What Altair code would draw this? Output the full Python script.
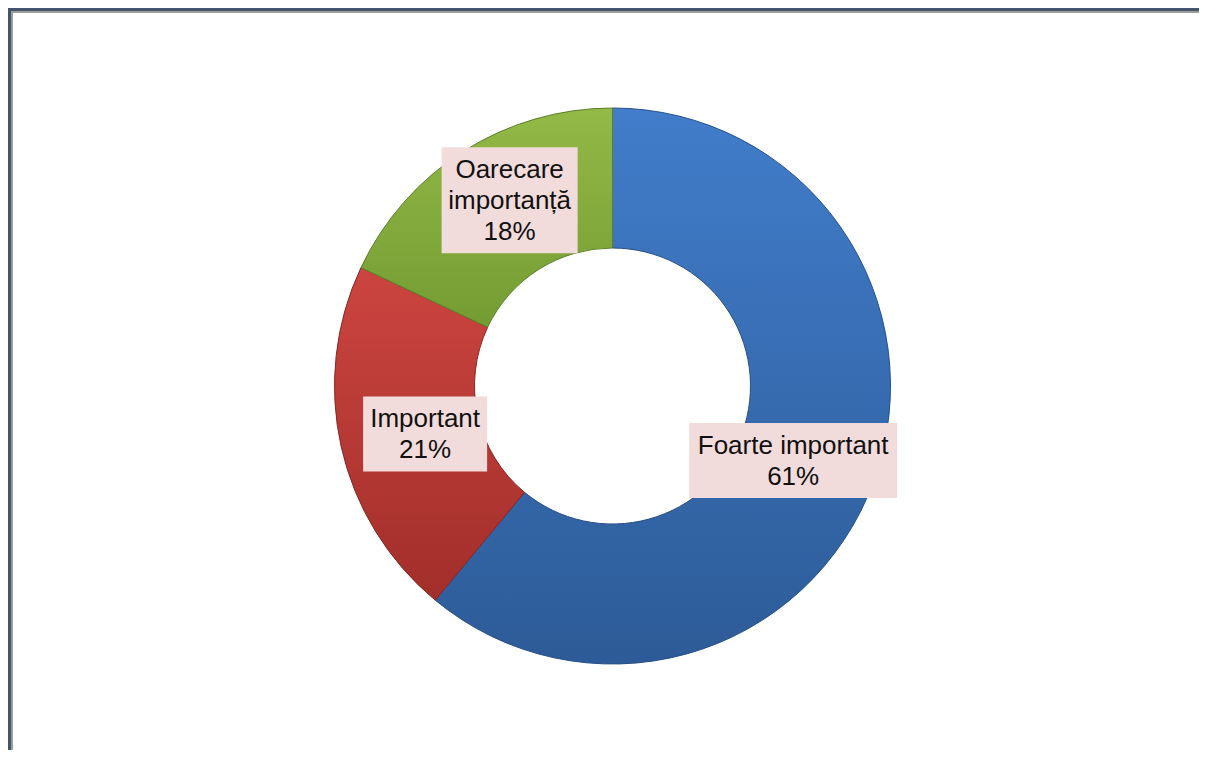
import math
import altair as alt
import pandas as pd

# ---- data ----
categories = ["Foarte important", "Important", "Oarecare importanță"]
label_text = ["Foarte important", "Important", "Oarecare\nimportanță"]
values = [61, 21, 18]

df = pd.DataFrame({"cat": categories, "label": label_text, "value": values})
df["order"] = range(len(df))
df["text"] = [f"{l}\n{v}%" for l, v in zip(df["label"], df["value"])]
df["nlines"] = [t.count("\n") + 1 for t in df["text"]]
df["maxlen"] = [max(len(s) for s in t.split("\n")) for t in df["text"]]

# ---- layout ----
W, H = 1191, 742
CX, CY = 604.5, 378
R_OUT, R_IN = 278, 138
LAB_RX, LAB_RY = 192, 220
LINE_H = 31

base = alt.Chart(df).transform_window(
    cum="sum(value)", sort=[alt.SortField("order")]
).transform_calculate(
    start="datum.cum - datum.value",
    end="datum.cum",
).transform_calculate(
    ang="(datum.start + datum.value / 2) / 100 * 2 * PI",
).transform_calculate(
    lx=f"{CX} + {LAB_RX} * sin(datum.ang)",
    ly=f"{CY} - {LAB_RY} * cos(datum.ang)",
    bw="datum.maxlen * 12 + 16",
    bh=f"datum.nlines * {LINE_H} + 13",
).transform_calculate(
    bx1="datum.lx - datum.bw / 2",
    bx2="datum.lx + datum.bw / 2",
    by1="datum.ly - datum.bh / 2",
    by2="datum.ly + datum.bh / 2",
    ty=f"datum.ly - (datum.nlines - 1) * {LINE_H} / 2 + 1",
)

theta_scale = alt.Scale(domain=[0, 100], range=[0, 2 * math.pi])

styles = {
    "Foarte important": ("#417DCB", "#2D5B97", "#254E84"),
    "Important": ("#CC4540", "#A22E2A", "#862623"),
    "Oarecare importanță": ("#93B947", "#739C32", "#5C7F27"),
}

arcs = []
for cat, (c1, c2, edge) in styles.items():
    arcs.append(
        base.transform_filter(alt.datum.cat == cat)
        .mark_arc(
            innerRadius=R_IN,
            outerRadius=R_OUT,
            stroke=edge,
            strokeWidth=1,
            fill=alt.Gradient(
                gradient="linear",
                x1=0, y1=0, x2=0, y2=1,
                stops=[alt.GradientStop(color=c1, offset=0),
                       alt.GradientStop(color=c2, offset=1)],
            ),
        )
        .encode(
            x=alt.value(CX),
            y=alt.value(CY),
            theta=alt.Theta("start:Q", scale=theta_scale),
            theta2="end:Q",
        )
    )

boxes = base.mark_rect(color="#F2DCDB").encode(
    x=alt.X("bx1:Q", scale=None, axis=None),
    x2="bx2:Q",
    y=alt.Y("by1:Q", scale=None, axis=None),
    y2="by2:Q",
)

labels = base.mark_text(
    font="Liberation Sans",
    fontSize=26,
    lineHeight=LINE_H,
    lineBreak="\n",
    align="center",
    baseline="middle",
    color="#111111",
).encode(
    x=alt.X("lx:Q", scale=None, axis=None),
    y=alt.Y("ty:Q", scale=None, axis=None),
    text="text:N",
)

# frame lines (top and left edges)
frame_dark = "#44546A"
frame_grey = "#9C9C9C"
top_dark = alt.Chart(df).mark_rule(color=frame_dark, strokeWidth=3).encode(
    x=alt.value(0), x2=alt.value(W), y=alt.value(1.5)
)
top_grey = alt.Chart(df).mark_rule(color=frame_grey, strokeWidth=2).encode(
    x=alt.value(3), x2=alt.value(W), y=alt.value(4)
)
left_dark = alt.Chart(df).mark_rule(color=frame_dark, strokeWidth=3).encode(
    x=alt.value(1.5), y=alt.value(0), y2=alt.value(H)
)
left_grey = alt.Chart(df).mark_rule(color=frame_grey, strokeWidth=2).encode(
    x=alt.value(4), y=alt.value(3), y2=alt.value(H)
)

chart = alt.layer(
    *arcs, boxes, labels, top_dark, top_grey, left_dark, left_grey
).properties(
    width=W,
    height=H,
    padding=0,
    autosize=alt.AutoSizeParams(type="none"),
    background="white",
).configure_view(stroke=None)

chart.save("out.html", embed_options={"renderer": "svg", "actions": False})
